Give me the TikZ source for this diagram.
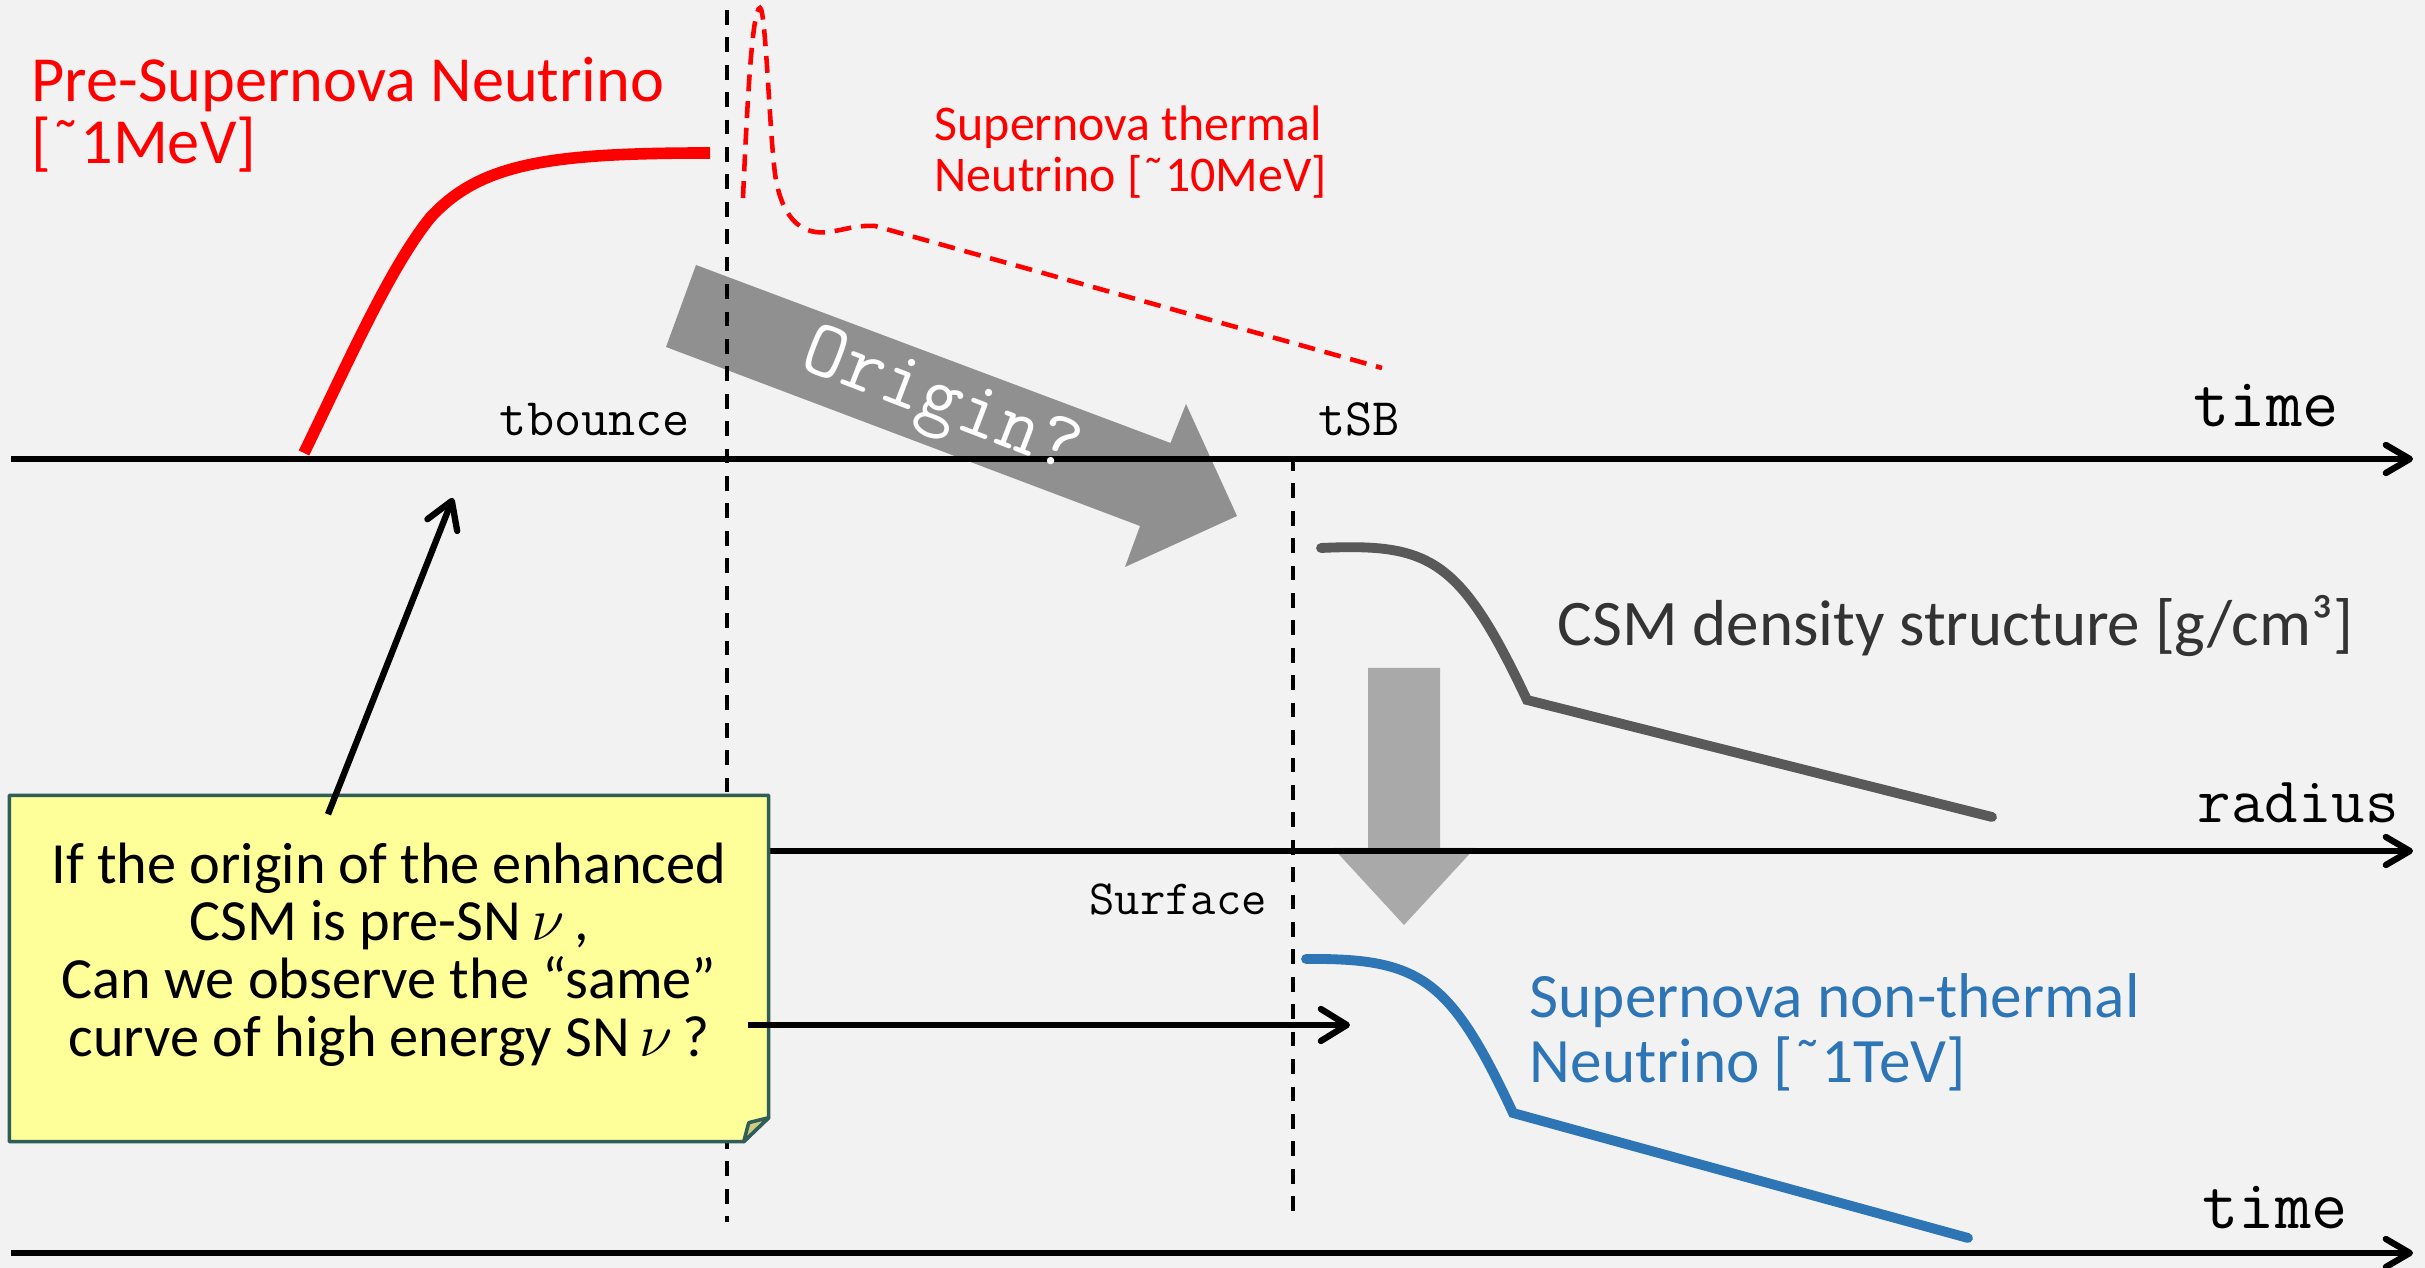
\documentclass[tikz,border=0pt]{standalone}
\usepackage{fontspec}
\setmainfont{Carlito}
\usetikzlibrary{arrows.meta,calc}

\definecolor{bgcol}{HTML}{F2F2F2}
\definecolor{snred}{HTML}{FF0000}
\definecolor{csmgray}{HTML}{595959}
\definecolor{csmtext}{HTML}{333333}
\definecolor{nublue}{HTML}{2E75B6}
\definecolor{bigarrow}{HTML}{909090}
\definecolor{downarrow}{HTML}{A9A9A9}
\definecolor{notefill}{HTML}{FFFF99}
\definecolor{noteline}{HTML}{2F5D58}
\definecolor{notefold}{HTML}{CDCD80}

\tikzset{
    axisline/.style={line width=1.8pt,-{Straight Barb[length=2.4mm,width=2.8mm,round]}},
    ptr/.style={line width=1.8pt,-{Straight Barb[length=2.6mm,width=3.2mm,round]}},
    tline/.style={dash pattern=on 4.2pt off 3.6pt,line width=0.9pt},
    ttlabel/.style={font=\ttfamily\fontsize{#1}{#1}\selectfont,inner sep=0pt,anchor=base},
    sidelabel/.style={anchor=north west,inner sep=0pt,align=left},
    notebox/.style={minimum width=7.58cm,minimum height=3.45cm,inner sep=0pt},
    notetext/.style={align=center,inner sep=0pt,font=\fontsize{16.6}{16.4}\selectfont}
}

\begin{document}
\begin{tikzpicture}
    % Hintergrund
    \fill[bgcol] (0,0) rectangle (24.25,12.68);
    \useasboundingbox (0,0) rectangle (24.25,12.68);

    % grosse Pfeile
    \fill[bigarrow] (6.96,10.03) -- (11.705,8.25) -- (11.86,8.64) -- (12.37,7.52)
        -- (11.25,7.01) -- (11.40,7.42) -- (6.66,9.21) -- cycle;
    \fill[downarrow] (13.68,6.00) -- (14.40,6.00) -- (14.40,4.20) -- (14.75,4.20)
        -- (14.04,3.43) -- (13.33,4.20) -- (13.68,4.20) -- cycle;

    % Achsen
    \draw[axisline] (0.11,8.09) -- (24.13,8.09);
    \draw[axisline] (0.11,4.17) -- (24.13,4.17);
    \draw[axisline] (0.11,0.15) -- (24.13,0.15);

    % tbounce / tSB
    \draw[tline] (7.27,12.58) -- (7.27,0.46);
    \draw[tline] (12.93,8.12) -- (12.93,0.46);

    % Kurven
    \draw[snred,line width=3.3pt] (3.04,8.15) .. controls (3.5,9.1) and (3.9,10.0) .. (4.3,10.5)
        .. controls (4.8,11.05) and (5.5,11.15) .. (7.10,11.15);
    \draw[snred,line width=1.3pt,dash pattern=on 4.8pt off 2.8pt]
        (7.43,10.70) .. controls (7.47,11.6) and (7.52,12.6) .. (7.60,12.60)
        .. controls (7.66,12.6) and (7.70,11.2) .. (7.76,10.88)
        .. controls (7.84,10.45) and (8.05,10.33) .. (8.28,10.36)
        .. controls (8.45,10.38) and (8.55,10.43) .. (8.75,10.42) -- (13.82,9.00);
    \draw[csmgray,line width=2.8pt,line cap=round]
        (13.21,7.20) .. controls (14.3,7.25) and (14.6,7.1) .. (15.27,5.68) -- (19.92,4.51);
    \draw[nublue,line width=2.8pt,line cap=round]
        (13.06,3.09) .. controls (14.2,3.1) and (14.5,2.9) .. (15.13,1.55) -- (19.68,0.30);

    % Notiz
    \node[notebox] (question) at (3.89,2.995) {};
    \filldraw[fill=notefill,draw=noteline,line width=1pt,line join=round]
        (question.north west) -- (question.north east) -- ([yshift=0.24cm]question.south east)
        -- ([xshift=-0.25cm]question.south east) -- (question.south west) -- cycle;
    \filldraw[fill=notefold,draw=noteline,line width=1pt,line join=round]
        ([yshift=0.24cm]question.south east) -- ([shift={(-0.20cm,0.19cm)}]question.south east)
        -- ([xshift=-0.25cm]question.south east) -- cycle;
    \node[notetext] (qtext) at ([yshift=0.14cm]question.center)
        {If the origin of the enhanced\\ CSM is pre-SN\,$\nu$\,,\\ Can we observe the “same”\\ curve of high energy SN\,$\nu$\,?};

    \coordinate (prept) at (4.53,7.70);
    \coordinate (sbpt) at (13.50,2.43);
    \draw[ptr] ($(question.north)+(-0.61,-0.19)$) -- (prept);
    \draw[ptr] ($(question.east |- sbpt)+(-0.21,0)$) -- (sbpt);

    % Beschriftung
    \node[ttlabel=15] (tbounce) at (5.95,8.32) {tbounce};
    \node[ttlabel=15] (tsb) at (13.59,8.32) {tSB};
    \node[ttlabel=20] (timeA) at (22.66,8.41) {time};
    \node[ttlabel=18.5] (radius) at (22.98,4.45) {radius};
    \node[ttlabel=20] (timeB) at (22.75,0.39) {time};
    \node[ttlabel=14] (surface) at (11.78,3.53) {Surface};
    \node[ttlabel=23,text=white,rotate=-21,anchor=center] (origin) at (9.40,8.63) {Origin?};

    \node[sidelabel,text=snred,font=\fontsize{18.3}{17.6}\selectfont] (prenu) at (0.31,12.11)
        {Pre-Supernova Neutrino\\ {[}˜1MeV{]}};
    \node[sidelabel,text=snred,font=\fontsize{14.2}{14.5}\selectfont] (thermnu) at (9.34,11.63)
        {Supernova thermal\\ Neutrino {[}˜10MeV{]}};
    \node[anchor=base west,inner sep=0pt,text=csmtext,font=\fontsize{18.5}{18.5}\selectfont] (csm) at (15.57,6.22)
        {CSM density structure {[}g/cm³{]}};
    \node[sidelabel,text=nublue,font=\fontsize{18}{18.5}\selectfont] (nonthermnu) at (15.29,2.95)
        {Supernova non-thermal\\ Neutrino {[}˜1TeV{]}};
\end{tikzpicture}
\end{document}
